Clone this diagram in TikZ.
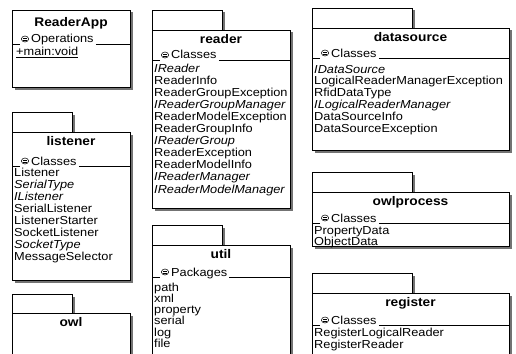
\documentclass[tikz,border=0pt]{standalone}
\usepackage{fontspec}
\setmainfont[FakeStretch=1.1]{Liberation Sans}
\usetikzlibrary{calc}
\tikzset{
  boxline/.style={draw=black, line width=0.8pt, fill=white},
  shadowc/.style={fill=black!55},
  hdrline/.style={draw=black, line width=0.8pt},
  titletext/.style={font=\fontsize{12.5}{13}\selectfont\bfseries, inner sep=0pt, anchor=base},
  itemtext/.style={font=\fontsize{11.6}{12}\selectfont, inner sep=0pt, anchor=base west},
}
% #1 id, #2 x1, #3 tab top, #4 tab right, #5 x2, #6 body top, #7 bottom, #8 title
\newcommand{\PkgBox}[8]{%
  \fill[shadowc] (#4,#3+2.5) rectangle (#4+2.5,#6);
  \fill[shadowc] (#2+2.5,#7) rectangle (#5+2.5,#7+2.5);
  \fill[shadowc] (#5,#6+2.5) rectangle (#5+2.5,#7+2.5);
  \draw[boxline] (#2,#3) rectangle (#4,#6);
  \draw[boxline] (#2,#6) rectangle (#5,#7);
  \node[titletext] (#1) at ({(#2+#5)/2},#6+13.5) {#8};
}
% #1 id, #2 x1, #3 x2, #4 baseline, #5 text
\newcommand{\HdrRow}[5]{%
  \draw[hdrline] (#2,#4+1) -- (#2+8,#4+1);
  \draw[line width=0.5pt] (#2+13,#4-4) ellipse [x radius=3.6pt, y radius=3pt];
  \draw[line width=0.45pt] (#2+10.8,#4-5) -- (#2+15.2,#4-5)
                           (#2+10.8,#4-3) -- (#2+15.2,#4-3);
  \node[itemtext] (#1) at (#2+19,#4) {#5};
  \draw[hdrline] ($(#1.base east)+(2,1)$) -- (#3,#4+1);
}
\begin{document}
\begin{tikzpicture}[x=1pt,y=-1pt]
\clip (0,0) rectangle (516,353);
\fill[white] (0,0) rectangle (516,353);

% ReaderApp class
\fill[shadowc] (14.5,87) rectangle (132.5,89.5);
\fill[shadowc] (130,12.5) rectangle (132.5,89.5);
\draw[boxline] (12,10) rectangle (130,87);
\node[titletext] (readerapp) at (71,27) {ReaderApp};
\HdrRow{readerapp-h}{12}{130}{43}{Operations}
\node[itemtext] (readerapp-1) at (16,56) {\underline{+main:void}};

% listener
\PkgBox{listener}{12}{112}{72}{130}{132}{280}{listener}
\HdrRow{listener-h}{12}{130}{165}{Classes}
\foreach \t [count=\i] in {Listener,\textit{SerialType},\textit{IListener},SerialListener,ListenerStarter,SocketListener,\textit{SocketType},MessageSelector}
  \node[itemtext] (listener-\i) at (14,{176+12*(\i-1)}) {\t};

% owl
\PkgBox{owl}{12}{294}{72}{130}{313}{400}{owl}

% reader
\PkgBox{reader}{152}{10}{222}{290}{30}{208}{reader}
\HdrRow{reader-h}{152}{290}{59}{Classes}
\foreach \t [count=\i] in {\textit{IReader},ReaderInfo,ReaderGroupException,\textit{IReaderGroupManager},ReaderModelException,ReaderGroupInfo,\textit{IReaderGroup},ReaderException,ReaderModelInfo,\textit{IReaderManager},\textit{IReaderModelManager}}
  \node[itemtext] (reader-\i) at (154,{72+12.1*(\i-1)}) {\t};

% util
\PkgBox{util}{152}{225}{222}{290}{245}{400}{util}
\HdrRow{util-h}{152}{290}{276}{Packages}
\foreach \t [count=\i] in {path,xml,property,serial,log,file}
  \node[itemtext] (util-\i) at (154,{291+11.3*(\i-1)}) {\t};

% datasource
\PkgBox{datasource}{312}{8}{412}{509}{28}{150}{datasource}
\HdrRow{datasource-h}{312}{509}{57}{Classes}
\foreach \t [count=\i] in {\textit{IDataSource},LogicalReaderManagerException,RfidDataType,\textit{ILogicalReaderManager},DataSourceInfo,DataSourceException}
  \node[itemtext] (datasource-\i) at (314,{73+11.8*(\i-1)}) {\t};

% owlprocess
\PkgBox{owlprocess}{312}{172}{412}{509}{192}{246}{owlprocess}
\HdrRow{owlprocess-h}{312}{509}{222}{Classes}
\node[itemtext] (owlprocess-1) at (314,234) {PropertyData};
\node[itemtext] (owlprocess-2) at (314,245) {ObjectData};

% register
\PkgBox{register}{312}{273}{412}{509}{293}{400}{register}
\HdrRow{register-h}{312}{509}{324}{Classes}
\node[itemtext] (register-1) at (314,336) {RegisterLogicalReader};
\node[itemtext] (register-2) at (314,348) {RegisterReader};
\end{tikzpicture}
\end{document}
